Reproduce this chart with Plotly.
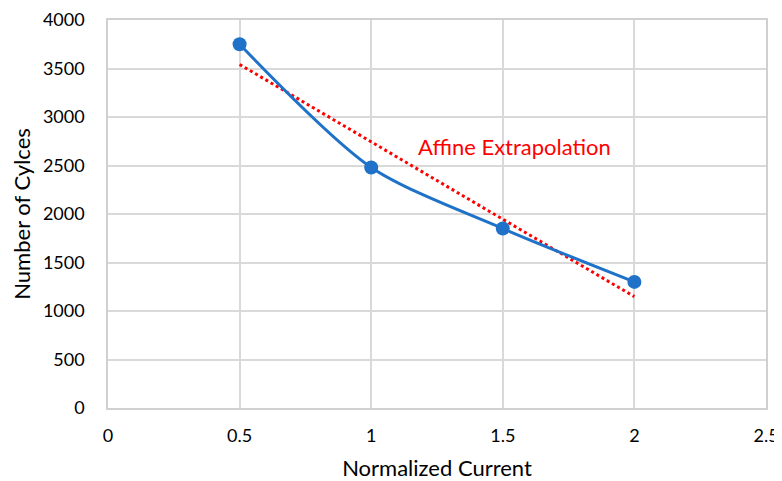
import numpy as np
import plotly.graph_objects as go

current = [0.5, 1.0, 1.5, 2.0]
cycles = [3750, 2480, 1850, 1300]

slope, intercept = np.polyfit(current, cycles, 1)
trend_x = [current[0], current[-1]]
trend_y = [slope * x + intercept for x in trend_x]

FONT = "Lato, 'Open Sans', sans-serif"

fig = go.Figure()
fig.add_trace(go.Scatter(
    x=trend_x, y=trend_y, mode="lines",
    line=dict(color="#ff0000", width=3, dash="dot"),
    showlegend=False, hoverinfo="skip"))
fig.add_trace(go.Scatter(
    x=current, y=cycles, mode="lines+markers",
    line=dict(color="#1f72c8", width=3, shape="spline", smoothing=0.8),
    marker=dict(color="#1f72c8", size=14),
    showlegend=False))

fig.add_annotation(x=1.545, y=2700, text="Affine Extrapolation", showarrow=False,
                   font=dict(family=FONT, size=22, color="#ff0000"))

# page body has an 8px default margin, so the figure starts at (8, 8)
fig.update_layout(
    width=774, height=473,
    margin=dict(l=100, r=16, t=12, b=73),
    paper_bgcolor="white", plot_bgcolor="white",
    font=dict(family=FONT, size=18, color="#000000"),
    xaxis=dict(range=[0, 2.5], tickvals=[0, 0.5, 1, 1.5, 2, 2.5],
               ticktext=["0", "0.5", "1", "1.5", "2", "2.5"],
               showgrid=True, gridcolor="#d9d9d9", gridwidth=1.5,
               showline=True, linecolor="#d0d0d0", linewidth=1.5, mirror=True,
               zeroline=False, ticks="", ticklabelstandoff=11, automargin=False,
               title=dict(text="Normalized Current", font=dict(size=22), standoff=15)),
    yaxis=dict(range=[0, 4000], tickvals=list(range(0, 4001, 500)),
               showgrid=True, gridcolor="#d9d9d9", gridwidth=1.5,
               showline=True, linecolor="#d0d0d0", linewidth=1.5, mirror=True,
               zeroline=False, ticks="", ticklabelstandoff=18, automargin=False,
               title=dict(text="Number of Cylces", font=dict(size=22), standoff=14)),
)

fig.write_html("out.html")
